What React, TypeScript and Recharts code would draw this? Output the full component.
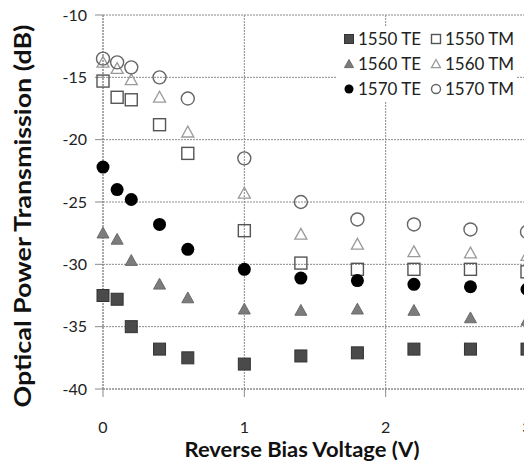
import React from "react";
import {
  ScatterChart,
  Scatter,
  XAxis,
  YAxis,
  CartesianGrid,
  ReferenceLine,
  Label,
} from "recharts";

const voltages = [0, 0.1, 0.2, 0.4, 0.6, 1.0, 1.4, 1.8, 2.2, 2.6, 3.0];
const te1550 = [-32.5, -32.8, -35.0, -36.8, -37.5, -38.0, -37.35, -37.1, -36.8, -36.8, -36.8];
const tm1550 = [-15.3, -16.6, -16.8, -18.8, -21.1, -27.3, -29.9, -30.4, -30.4, -30.4, -30.6];
const te1560 = [-27.5, -28.0, -29.7, -31.6, -32.7, -33.6, -33.7, -33.6, -33.7, -34.3, -34.5];
const tm1560 = [-13.8, -14.3, -15.2, -16.6, -19.4, -24.3, -27.6, -28.4, -29.0, -29.1, -29.3];
const te1570 = [-22.2, -24.0, -24.8, -26.8, -28.8, -30.4, -31.1, -31.3, -31.6, -31.8, -32.0];
const tm1570 = [-13.5, -13.8, -14.2, -15.0, -16.7, -21.5, -25.0, -26.4, -26.8, -27.2, -27.4];

const xTicks = [0, 1, 2, 3];
const yTicks = [-40, -35, -30, -25, -20, -15, -10];
const xTitle = "Reverse Bias Voltage (V)";
const yTitle = "Optical Power Transmission (dB)";

const toPoints = (vals: number[]) => voltages.map((x, i) => ({ x, y: vals[i] }));

const FONT = "Lato, 'Open Sans', sans-serif";
const GRID = "#8a8a8a";

type MarkerKind = "sqF" | "sqO" | "triF" | "triO" | "cirF" | "cirO";

const drawMarker = (kind: MarkerKind, cx: number, cy: number, s: number) => {
  const h = s / 2;
  switch (kind) {
    case "sqF":
      return <rect x={cx - h} y={cy - h} width={s} height={s} fill="#4a4a4a" stroke="#333" strokeWidth={1} />;
    case "sqO":
      return <rect x={cx - h} y={cy - h} width={s} height={s} fill="none" stroke="#555" strokeWidth={1.4} />;
    case "triF":
      return (
        <polygon
          points={`${cx},${cy - h} ${cx + h},${cy + h * 0.8} ${cx - h},${cy + h * 0.8}`}
          fill="#7c7c7c"
          stroke="#6a6a6a"
          strokeWidth={1}
        />
      );
    case "triO":
      return (
        <polygon
          points={`${cx},${cy - h} ${cx + h},${cy + h * 0.8} ${cx - h},${cy + h * 0.8}`}
          fill="none"
          stroke="#9a9a9a"
          strokeWidth={1.3}
        />
      );
    case "cirF":
      return <circle cx={cx} cy={cy} r={h} fill="#000" />;
    case "cirO":
      return <circle cx={cx} cy={cy} r={h} fill="none" stroke="#666" strokeWidth={1.4} />;
  }
};

const shapeFor = (kind: MarkerKind, size: number) => (props: any) => {
  const { cx, cy } = props;
  if (cx == null || cy == null) return <g />;
  return <g>{drawMarker(kind, cx, cy, size)}</g>;
};

const series: { name: string; data: number[]; kind: MarkerKind; size: number }[] = [
  { name: "1550 TE", data: te1550, kind: "sqF", size: 12 },
  { name: "1550 TM", data: tm1550, kind: "sqO", size: 12 },
  { name: "1560 TE", data: te1560, kind: "triF", size: 12 },
  { name: "1560 TM", data: tm1560, kind: "triO", size: 12 },
  { name: "1570 TE", data: te1570, kind: "cirF", size: 13 },
  { name: "1570 TM", data: tm1570, kind: "cirO", size: 13 },
];

const legendOrder: [number, number][] = [
  [0, 1],
  [2, 3],
  [4, 5],
];

const LegendBox = () => (
  <div
    style={{
      position: "absolute",
      left: 337,
      top: 27,
      background: "#fff",
      width: 180,
      height: 74,
      fontFamily: FONT,
      fontSize: 17,
      color: "#222",
    }}
  >
    {legendOrder.map((pair, r) =>
      pair.map((si, c) => {
        const s = series[si];
        return (
          <div
            key={s.name}
            style={{
              position: "absolute",
              left: c === 0 ? 5 : 92,
              top: 1 + r * 25,
              display: "flex",
              alignItems: "center",
              whiteSpace: "nowrap",
            }}
          >
            <svg width={14} height={20} style={{ marginRight: 2 }}>
              {drawMarker(s.kind, 7, 10, 9)}
            </svg>
            <span>{s.name}</span>
          </div>
        );
      })
    )}
  </div>
);

const tickStyle = { fontFamily: FONT, fontSize: 16, fill: "#222" };

export default function App() {
  return (
    <div style={{ position: "relative", width: 532, height: 469, margin: -8, overflow: "hidden" }}>
      <ScatterChart
        width={532}
        height={469}
        margin={{ top: 15, right: 5, bottom: 0, left: 0 }}
      >
        <CartesianGrid stroke={GRID} strokeDasharray="2 1" vertical horizontal />
        <XAxis
          type="number"
          dataKey="x"
          domain={[0, 3]}
          ticks={xTicks}
          interval={0}
          height={80}
          tickSize={8}
          tickMargin={25}
          tick={tickStyle}
          axisLine={{ stroke: GRID, strokeDasharray: "2 1" }}
          tickLine={{ stroke: GRID }}
        >
          <Label
            content={() => (
              <text
                x={302}
                y={457}
                textAnchor="middle"
                fontFamily={FONT}
                fontWeight="bold"
                fontSize={21}
                fill="#111"
                textLength={235}
                lengthAdjust="spacingAndGlyphs"
              >
                {xTitle}
              </text>
            )}
          />
        </XAxis>
        <YAxis
          type="number"
          dataKey="y"
          domain={[-40, -10]}
          ticks={yTicks}
          interval={0}
          width={103}
          tickSize={8}
          tickMargin={8}
          tick={tickStyle}
          axisLine={{ stroke: GRID, strokeDasharray: "2 1" }}
          tickLine={{ stroke: GRID }}
        >
          <Label
            content={() => (
              <text
                x={22}
                y={216}
                transform="rotate(-90 22 216)"
                textAnchor="middle"
                dominantBaseline="central"
                fontFamily={FONT}
                fontWeight="bold"
                fontSize={22}
                fill="#111"
                textLength={383}
                lengthAdjust="spacingAndGlyphs"
              >
                {yTitle}
              </text>
            )}
          />
        </YAxis>
        <ReferenceLine x={3} stroke={GRID} strokeDasharray="2 1" />
        {series.map((s) => (
          <Scatter
            key={s.name}
            name={s.name}
            data={toPoints(s.data)}
            shape={shapeFor(s.kind, s.size)}
            isAnimationActive={false}
          />
        ))}
      </ScatterChart>
      <LegendBox />
    </div>
  );
}
